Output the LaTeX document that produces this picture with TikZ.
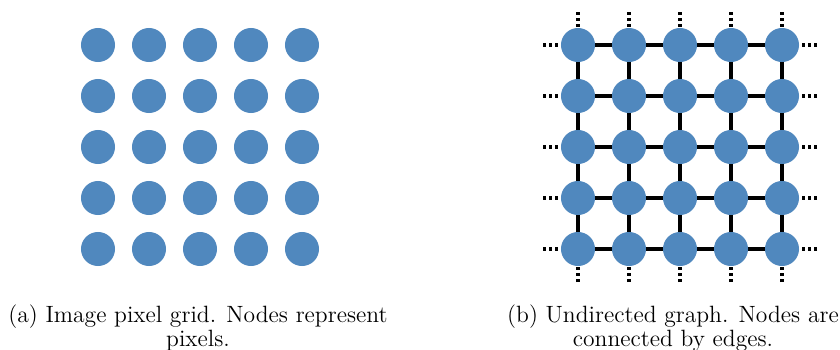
\documentclass[tikz,border=0pt]{standalone}
\definecolor{pix}{RGB}{80,136,190}
\tikzset{
  pixnode/.style={circle,fill=pix,inner sep=0pt,minimum size=17.9pt},
  edgeline/.style={line width=1.6pt,black},
  stub/.style={line width=1.6pt,black,dash pattern=on 1.58pt off 1.58pt},
  captxt/.style={align=center,font=\fontsize{12.4}{10.5}\selectfont,inner sep=0pt,anchor=north}
}
\pgfdeclarelayer{bg}
\pgfsetlayers{bg,main}
\begin{document}
\begin{tikzpicture}[x=0.526pt,y=-0.526pt]
\useasboundingbox (0,0) rectangle (840,349);
% left grid
\foreach \i in {1,...,5}{
  \foreach \j in {1,...,5}{
    \node[pixnode] (a-\i-\j) at ({98+51*(\j-1)},{45+51*(\i-1)}) {};
  }
}
% right grid
\foreach \i in {1,...,5}{
  \foreach \j in {1,...,5}{
    \node[pixnode] (n-\i-\j) at ({578+51*(\j-1)},{45+51*(\i-1)}) {};
  }
}
\foreach \i in {1,...,5}{
  \coordinate (w-\i) at (543,{45+51*(\i-1)});
  \coordinate (e-\i) at (817,{45+51*(\i-1)});
  \coordinate (t-\i) at ({578+51*(\i-1)},12);
  \coordinate (b-\i) at ({578+51*(\i-1)},282);
}
\begin{pgfonlayer}{bg}
\foreach \i in {1,...,5}{
  \foreach \j [evaluate=\j as \k using int(\j+1)] in {1,...,4}{
    \draw[edgeline] (n-\i-\j.center) -- (n-\i-\k.center);
    \draw[edgeline] (n-\j-\i.center) -- (n-\k-\i.center);
  }
}
\end{pgfonlayer}
\foreach \i in {1,...,5}{
  \draw[stub] (w-\i) -- (n-\i-1.west);
  \draw[stub] (e-\i) -- (n-\i-5.east);
  \draw[stub] (t-\i) -- (n-1-\i.north);
  \draw[stub] (b-\i) -- (n-5-\i.south);
}
% captions
\node[captxt] (capa) at (198,304.5) {(a) Image pixel grid. Nodes represent\\pixels.};
\node[captxt] (capb) at (673,304.5) {(b) Undirected graph. Nodes are\\connected by edges.};
\end{tikzpicture}
\end{document}
